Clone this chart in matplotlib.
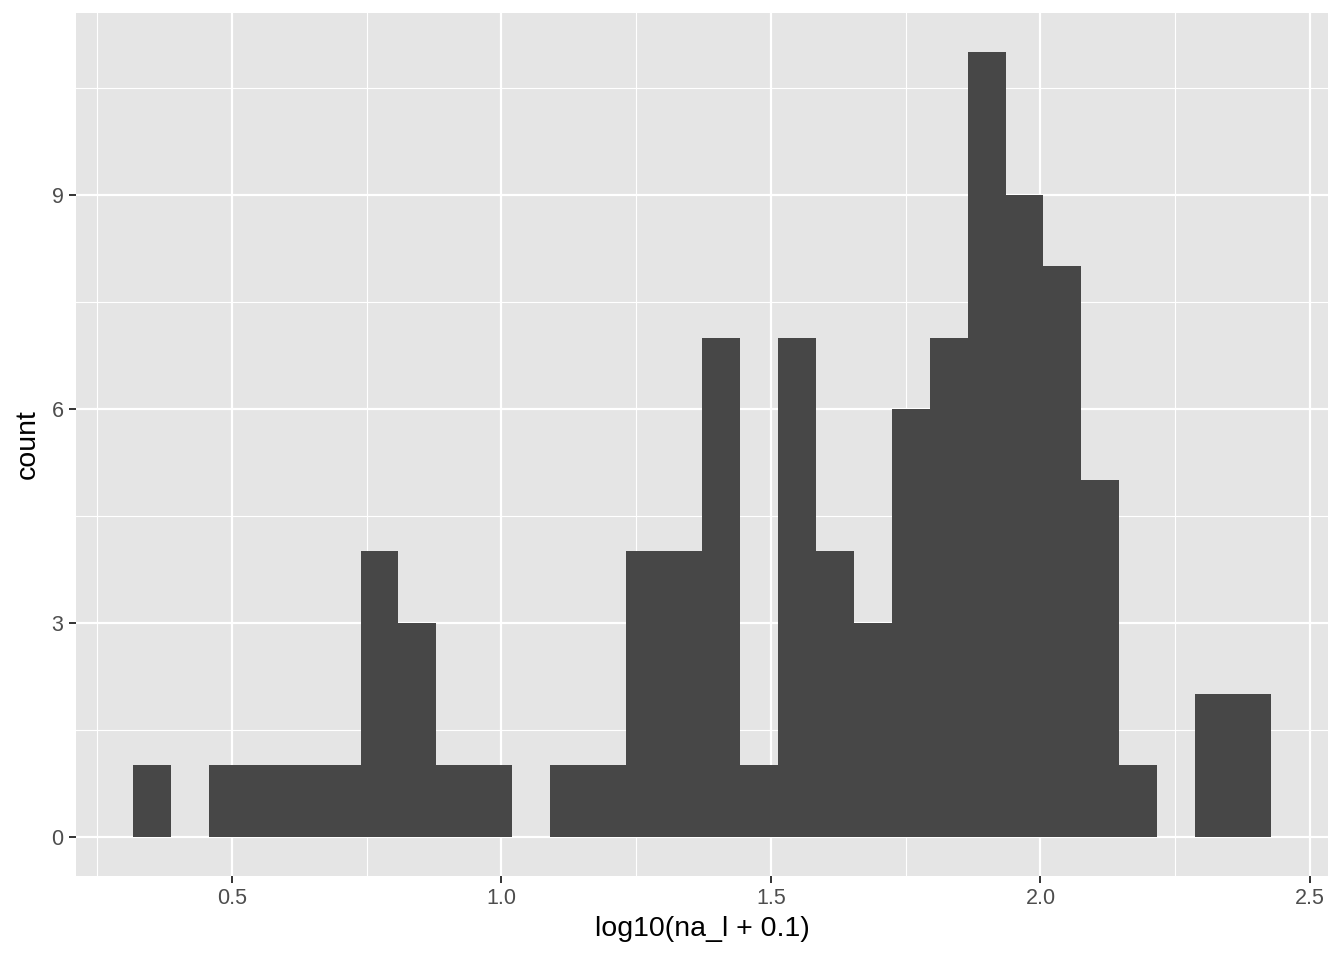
import numpy as np
import matplotlib
matplotlib.use("Agg")
import matplotlib.pyplot as plt
from matplotlib.ticker import MultipleLocator

# histogram: 30 bins
bin_start = 0.3167
bin_end = 2.4278
counts = [1, 0, 1, 1, 1, 1, 4, 3, 1, 1,
          0, 1, 1, 4, 4, 7, 1, 7, 4, 3,
          6, 7, 11, 9, 8, 5, 1, 0, 2, 2]
x_ticks = [0.5, 1.0, 1.5, 2.0, 2.5]
y_ticks = [0, 3, 6, 9]

edges = np.linspace(bin_start, bin_end, len(counts) + 1)
width = edges[1] - edges[0]

plt.rcParams['font.family'] = ['Liberation Sans', 'DejaVu Sans']
fig = plt.figure(figsize=(13.44, 9.6), dpi=100)
ax = fig.add_axes([76 / 1344, 1 - 876 / 960, (1328 - 76) / 1344, (876 - 13) / 960])
ax.set_facecolor('#E5E5E5')

ax.bar(edges[:-1], counts, width=width, align='edge', color='#474747', linewidth=0, zorder=3)

span = bin_end - bin_start
ax.set_xlim(bin_start - 0.05 * span, bin_end + 0.05 * span)
ax.set_ylim(-0.05 * max(counts), max(counts) * 1.05)

ax.set_xticks(x_ticks)
ax.set_xticklabels(["%.1f" % v for v in x_ticks])
ax.set_yticks(y_ticks)
ax.xaxis.set_minor_locator(MultipleLocator(0.25))
ax.yaxis.set_minor_locator(MultipleLocator(1.5))

ax.grid(which='major', color='white', linewidth=1.6, zorder=0)
ax.grid(which='minor', color='white', linewidth=0.8, zorder=0)
ax.set_axisbelow(True)

for s in ax.spines.values():
    s.set_visible(False)
ax.tick_params(which='major', length=5, width=1.4, color='#333333',
               labelsize=15.5, labelcolor='#4D4D4D', pad=4)
ax.tick_params(which='minor', length=0)

ax.set_xlabel('log10(na_l + 0.1)', fontsize=20.5, color='black', labelpad=5)
ax.set_ylabel('count', fontsize=20.5, color='black', labelpad=8)

fig.savefig('out.png', dpi=100, facecolor='white')
